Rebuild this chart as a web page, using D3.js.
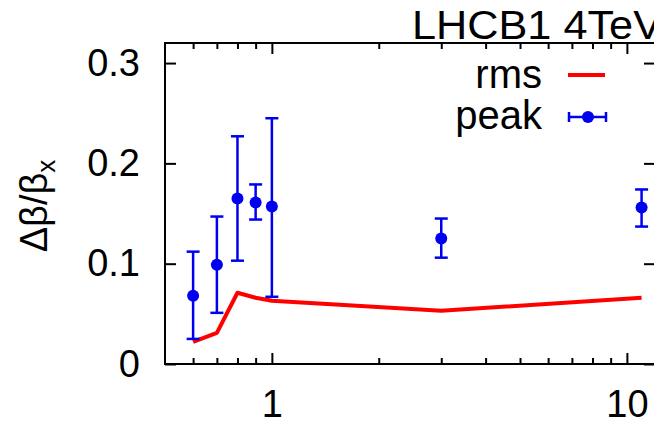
<!DOCTYPE html>
<html>
<head>
<meta charset="utf-8">
<script src="https://cdn.jsdelivr.net/npm/d3@7"></script>
<style>
  body { margin: 0; background: #fff; }
  svg { display: block; font-family: "Liberation Sans", Arial, sans-serif; }
  .tick line { stroke: #000; stroke-width: 2px; }
  .axis path.domain { display: none; }
</style>
</head>
<body>
<div id="chart-area"></div>
<script>
// Data
var peakX    = [0.6, 0.7, 0.8, 0.9, 1.0, 3.0, 11];
var peakY    = [0.068, 0.099, 0.165, 0.161, 0.157, 0.125, 0.156];
var peakLow  = [0.025, 0.051, 0.103, 0.144, 0.067, 0.106, 0.137];
var peakHigh = [0.112, 0.147, 0.227, 0.179, 0.245, 0.145, 0.174];

var rmsX = [0.6, 0.7, 0.8, 0.9, 1.0, 3.0, 11];
var rmsY = [0.022, 0.031, 0.071, 0.066, 0.063, 0.053, 0.066];

var xMajorTicks = [1, 10];
var xMinorTicks = [0.6, 0.7, 0.8, 0.9, 2, 3, 4, 5, 6, 7, 8, 9];
var yTicks = [0, 0.1, 0.2, 0.3];

var margin = { left: 165, right: -1, top: 43, bottom: 59 },
  width = 654 - margin.left - margin.right,
  height = 423 - margin.top - margin.bottom;

var svg = d3.select("#chart-area").append("svg")
  .attr("width", 654)
  .attr("height", 423);

var g = svg.append("g")
  .attr("transform", "translate(" + margin.left + "," + margin.top + ")");

// Scales
var x = d3.scaleLog().domain([0.5, 12]).range([0, width]);
var y = d3.scaleLinear().domain([0, 0.32]).range([height, 0]);

// Ticks (inward, on all four sides)
function ticks(axis, vals, size, tx, ty) {
  g.append("g")
    .attr("class", "axis")
    .attr("transform", "translate(" + tx + "," + ty + ")")
    .call(axis.tickValues(vals).tickSize(-size).tickFormat(""));
}
ticks(d3.axisBottom(x), xMajorTicks, 11, 0, height);
ticks(d3.axisBottom(x), xMinorTicks, 6, 0, height);
ticks(d3.axisTop(x), xMajorTicks, 11, 0, 0);
ticks(d3.axisTop(x), xMinorTicks, 6, 0, 0);
ticks(d3.axisLeft(y), yTicks, 11, 0, 0);
ticks(d3.axisRight(y), yTicks, 11, width, 0);

// Tick labels
var xLabels = g.append("g")
  .attr("class", "axis")
  .attr("transform", "translate(0," + height + ")")
  .call(d3.axisBottom(x).tickValues(xMajorTicks).tickSize(0).tickPadding(26)
    .tickFormat(d3.format("d")));
xLabels.selectAll("text")
  .attr("font-size", "38px")
  .attr("font-family", "Liberation Sans, Arial, sans-serif")
  .attr("fill", "#000");

var yLabels = g.append("g")
  .attr("class", "axis")
  .call(d3.axisLeft(y).tickValues(yTicks).tickSize(0).tickPadding(25)
    .tickFormat(function(d) { return d === 0 ? "0" : d3.format(".1f")(d); }));
yLabels.selectAll("text")
  .attr("font-size", "38px")
  .attr("font-family", "Liberation Sans, Arial, sans-serif")
  .attr("fill", "#000");

// Frame
g.append("rect")
  .attr("width", width)
  .attr("height", height)
  .attr("fill", "none")
  .attr("stroke", "#000")
  .attr("stroke-width", 2);

// rms line
var rmsData = rmsX.map(function(d, i) { return { x: d, y: rmsY[i] }; });
var line = d3.line()
  .x(function(d) { return x(d.x); })
  .y(function(d) { return y(d.y); });

g.append("path")
  .attr("d", line(rmsData))
  .attr("fill", "none")
  .attr("stroke", "#f00")
  .attr("stroke-width", 4)
  .attr("stroke-linejoin", "round");

// peak points with error bars
var blue = "#0000f0";
var peakData = peakX.map(function(d, i) {
  return { x: d, y: peakY[i], lo: peakLow[i], hi: peakHigh[i] };
});
var cap = 6.5;

var pts = g.selectAll(".peak")
  .data(peakData)
  .enter().append("g")
  .attr("class", "peak");

pts.append("line")
  .attr("x1", function(d) { return x(d.x); })
  .attr("x2", function(d) { return x(d.x); })
  .attr("y1", function(d) { return y(d.lo); })
  .attr("y2", function(d) { return y(d.hi); })
  .attr("stroke", blue).attr("stroke-width", 2.5);
pts.append("line")
  .attr("x1", function(d) { return x(d.x) - cap; })
  .attr("x2", function(d) { return x(d.x) + cap; })
  .attr("y1", function(d) { return y(d.hi); })
  .attr("y2", function(d) { return y(d.hi); })
  .attr("stroke", blue).attr("stroke-width", 2.5);
pts.append("line")
  .attr("x1", function(d) { return x(d.x) - cap; })
  .attr("x2", function(d) { return x(d.x) + cap; })
  .attr("y1", function(d) { return y(d.lo); })
  .attr("y2", function(d) { return y(d.lo); })
  .attr("stroke", blue).attr("stroke-width", 2.5);
pts.append("circle")
  .attr("cx", function(d) { return x(d.x); })
  .attr("cy", function(d) { return y(d.y); })
  .attr("r", 6)
  .attr("fill", blue);

// Legend
svg.append("text")
  .attr("x", 542).attr("y", 88)
  .attr("text-anchor", "end")
  .attr("font-size", "40px")
  .text("rms");
svg.append("line")
  .attr("x1", 568).attr("x2", 605)
  .attr("y1", 75).attr("y2", 75)
  .attr("stroke", "#f00").attr("stroke-width", 4);

svg.append("text")
  .attr("x", 542).attr("y", 129)
  .attr("text-anchor", "end")
  .attr("font-size", "40px")
  .text("peak");
var lg = svg.append("g").attr("stroke", blue).attr("stroke-width", 2.5);
lg.append("line").attr("x1", 569).attr("x2", 606).attr("y1", 117).attr("y2", 117);
lg.append("line").attr("x1", 569).attr("x2", 569).attr("y1", 112).attr("y2", 122);
lg.append("line").attr("x1", 606).attr("x2", 606).attr("y1", 112).attr("y2", 122);
svg.append("circle").attr("cx", 588).attr("cy", 117).attr("r", 6).attr("fill", blue);

// Title (slightly wider than the font's natural width, and cut by the right edge)
svg.append("text")
  .attr("x", 412).attr("y", 39)
  .attr("font-size", "40px")
  .attr("textLength", 250)
  .attr("lengthAdjust", "spacingAndGlyphs")
  .text("LHCB1 4TeV");

// Y-Axis label
var yLab = svg.append("text")
  .attr("transform", "translate(47,206) rotate(-90)")
  .attr("text-anchor", "middle")
  .attr("font-size", "38px");
yLab.append("tspan").text("Δβ/β");
yLab.append("tspan").attr("dy", 8).attr("font-size", "26px").text("x");
</script>
</body>
</html>
